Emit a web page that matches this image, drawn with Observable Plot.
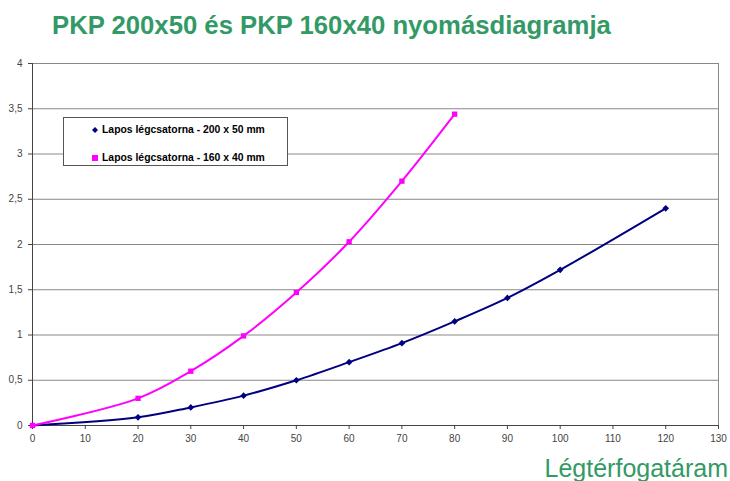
<!DOCTYPE html>
<html>
<head>
<meta charset="utf-8">
<script src="https://cdn.jsdelivr.net/npm/d3@7"></script>
<script src="https://cdn.jsdelivr.net/npm/@observablehq/plot@0.6"></script>
<style>
  html, body { margin: 0; padding: 0; background: #fff; }
  #wrap { position: relative; width: 730px; height: 481px; overflow: hidden; font-family: Arial, "Liberation Sans", sans-serif; }
  #title { position: absolute; left: 52px; top: 12px; font-size: 25.7px; line-height: 26px; font-weight: bold; color: #339966; white-space: nowrap; }
  #xlabel { position: absolute; right: 2px; top: 456px; font-size: 25px; line-height: 25px; color: #339966; white-space: nowrap; }
  #legend { position: absolute; left: 63px; top: 117px; width: 223px; height: 47px; border: 1px solid #555; background: #fff; font-size: 10.4px; font-weight: bold; color: #000; }
  .item { position: absolute; left: 28px; white-space: nowrap; display: flex; align-items: center; }
  .sw { display: inline-block; margin-right: 4px; }
  #plot { position: absolute; left: 0; top: 0; }
</style>
</head>
<body>
<div id="wrap">
  <div id="plot"></div>
  <div id="title">PKP 200x50 és PKP 160x40 nyomásdiagramja</div>
  <div id="legend"></div>
  <div id="xlabel">Légtérfogatáram</div>
</div>
<script>
// Series 1: Lapos légcsatorna - 200 x 50 mm
const flow200 = [0, 20, 30, 40, 50, 60, 70, 80, 90, 100, 120];
const press200 = [0, 0.09, 0.20, 0.33, 0.50, 0.70, 0.91, 1.15, 1.41, 1.72, 2.40];
// Series 2: Lapos légcsatorna - 160 x 40 mm
const flow160 = [0, 20, 30, 40, 50, 60, 70, 80];
const press160 = [0, 0.30, 0.60, 0.99, 1.47, 2.03, 2.70, 3.44];

const seriesNames = ["Lapos légcsatorna - 200 x 50 mm", "Lapos légcsatorna - 160 x 40 mm"];
const seriesColors = ["#000080", "#ff00ff"];
const xTicks = d3.range(0, 131, 10);
const yTicks = [0, 0.5, 1, 1.5, 2, 2.5, 3, 3.5, 4];

const s1 = flow200.map((x, i) => ({x, y: press200[i]}));
const s2 = flow160.map((x, i) => ({x, y: press160[i]}));

const fmt = v => String(v).replace(".", ",");

const chart = Plot.plot({
  width: 730,
  height: 481,
  marginLeft: 32,
  marginRight: 12,
  marginTop: 63,
  marginBottom: 56,
  style: { fontFamily: "Arial, 'Liberation Sans', sans-serif", fontSize: "10px", color: "#333", background: "transparent" },
  x: { domain: [0, 130], ticks: xTicks, tickFormat: d => d, tickSize: 4, tickPadding: 5, label: null },
  y: { domain: [0, 4], ticks: yTicks, tickFormat: fmt, tickSize: 4, tickPadding: 6, label: null },
  marks: [
    Plot.gridY(yTicks, { stroke: "#888", strokeOpacity: 1, strokeWidth: 1 }),
    Plot.ruleX([130], { stroke: "#888", strokeWidth: 1 }),
    Plot.axisY({ ticks: yTicks, tickFormat: fmt, tickSize: 4, tickPadding: 6, stroke: "#444", fill: "#444", label: null }),
    Plot.axisX({ ticks: xTicks, tickSize: 4, tickPadding: 5, stroke: "#444", fill: "#444", label: null }),
    Plot.ruleY([0], { stroke: "#444" }),
    Plot.ruleX([0], { stroke: "#444" }),
    Plot.line(s1, { x: "x", y: "y", stroke: seriesColors[0], strokeWidth: 2, curve: "catmull-rom" }),
    Plot.dot(s1, { x: "x", y: "y", fill: seriesColors[0], symbol: "diamond2", r: 3 }),
    Plot.line(s2, { x: "x", y: "y", stroke: seriesColors[1], strokeWidth: 2, curve: "catmull-rom" }),
    Plot.dot(s2, { x: "x", y: "y", fill: seriesColors[1], symbol: "square", r: 3 })
  ]
});
document.getElementById("plot").appendChild(chart);

// Legend
const legend = document.getElementById("legend");
const tops = [6, 34];
const shapes = [
  `<svg width="6" height="6" viewBox="0 0 6 6"><path d="M3 0L6 3L3 6L0 3Z" fill="${seriesColors[0]}"/></svg>`,
  `<svg width="6" height="6" viewBox="0 0 6 6"><rect width="6" height="6" fill="${seriesColors[1]}"/></svg>`
];
seriesNames.forEach((name, i) => {
  const el = document.createElement("div");
  el.className = "item";
  el.style.top = tops[i] + "px";
  el.innerHTML = `<span class="sw">${shapes[i]}</span><span>${name}</span>`;
  legend.appendChild(el);
});
</script>
</body>
</html>
